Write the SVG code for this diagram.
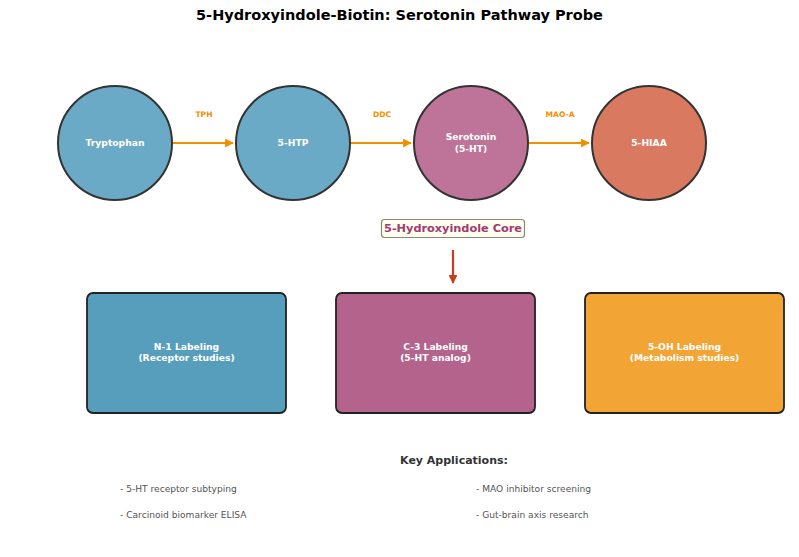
<svg xmlns="http://www.w3.org/2000/svg" width="799" height="557" viewBox="0 0 799 557">
<defs>
<style>
text{font-family:"DejaVu Sans","Liberation Sans",sans-serif;}
.title{font-size:14.5px;font-weight:bold;fill:#000;text-anchor:middle;}
.circ{stroke:#333;stroke-width:2;}
.nlabel{font-size:9.2px;font-weight:bold;fill:#fff;text-anchor:middle;}
.enz{font-size:7.6px;font-weight:bold;fill:#F18F01;text-anchor:middle;}
.box{stroke:#222;stroke-width:1.8;}
.bul{font-size:9.1px;fill:#555;}
</style>
<marker id="ao" viewBox="0 0 10 10" refX="9" refY="5" markerWidth="4" markerHeight="4" orient="auto"><path d="M0,0 L10,5 L0,10 z" fill="#F18F01"/></marker>
<marker id="ar" viewBox="0 0 10 10" refX="9" refY="5" markerWidth="4" markerHeight="4" orient="auto"><path d="M0,0 L10,5 L0,10 z" fill="#C73E1D"/></marker>
</defs>
<rect width="799" height="557" fill="#fff"/>
<text class="title" x="399.5" y="20">5-Hydroxyindole-Biotin: Serotonin Pathway Probe</text>

<g id="connectors">
<line x1="173" y1="143" x2="233" y2="143" stroke="#F18F01" stroke-width="2.2" marker-end="url(#ao)"/>
<line x1="351" y1="143" x2="411" y2="143" stroke="#F18F01" stroke-width="2.2" marker-end="url(#ao)"/>
<line x1="529" y1="143" x2="589" y2="143" stroke="#F18F01" stroke-width="2.2" marker-end="url(#ao)"/>
<text class="enz" x="204" y="116.5">TPH</text>
<text class="enz" x="382" y="116.5">DDC</text>
<text class="enz" x="560" y="116.5">MAO-A</text>
<line x1="453" y1="250" x2="453" y2="283" stroke="#C73E1D" stroke-width="2.2" marker-end="url(#ar)"/>
</g>

<g id="tryptophan">
<circle class="circ" cx="115" cy="143" r="57" fill="#6BAAC6"/>
<text class="nlabel" x="115" y="146">Tryptophan</text>
</g>
<g id="htp">
<circle class="circ" cx="293" cy="143" r="57" fill="#6BAAC6"/>
<text class="nlabel" x="293" y="146">5-HTP</text>
</g>
<g id="serotonin">
<circle class="circ" cx="471" cy="143" r="57" fill="#BE7499"/>
<text class="nlabel" x="471" y="140">Serotonin</text>
<text class="nlabel" x="471" y="151.5">(5-HT)</text>
</g>
<g id="hiaa">
<circle class="circ" cx="649" cy="143" r="57" fill="#D97A60"/>
<text class="nlabel" x="649" y="146">5-HIAA</text>
</g>

<g id="core">
<rect x="381.5" y="219.5" width="143" height="18" rx="3" fill="#FDFDF0" stroke="#8A8A70" stroke-width="1.2"/>
<text x="453" y="231.5" font-size="11.3" font-weight="bold" fill="#A23B72" text-anchor="middle">5-Hydroxyindole Core</text>
</g>

<g id="n1">
<rect class="box" x="87" y="293" width="199" height="120" rx="6" fill="#579EBD"/>
<text class="nlabel" x="186.5" y="350">N-1 Labeling</text>
<text class="nlabel" x="186.5" y="361">(Receptor studies)</text>
</g>
<g id="c3">
<rect class="box" x="336" y="293" width="199" height="120" rx="6" fill="#B3638C"/>
<text class="nlabel" x="435.5" y="350">C-3 Labeling</text>
<text class="nlabel" x="435.5" y="361">(5-HT analog)</text>
</g>
<g id="oh5">
<rect class="box" x="585" y="293" width="199" height="120" rx="6" fill="#F2A535"/>
<text class="nlabel" x="684.5" y="350">5-OH Labeling</text>
<text class="nlabel" x="684.5" y="361">(Metabolism studies)</text>
</g>

<g id="applications">
<text x="454" y="464" font-size="11" font-weight="bold" fill="#333" text-anchor="middle">Key Applications:</text>
<text class="bul" x="120" y="492">- 5-HT receptor subtyping</text>
<text class="bul" x="120" y="517.5">- Carcinoid biomarker ELISA</text>
<text class="bul" x="476" y="492">- MAO inhibitor screening</text>
<text class="bul" x="476" y="517.5">- Gut-brain axis research</text>
</g>
</svg>
